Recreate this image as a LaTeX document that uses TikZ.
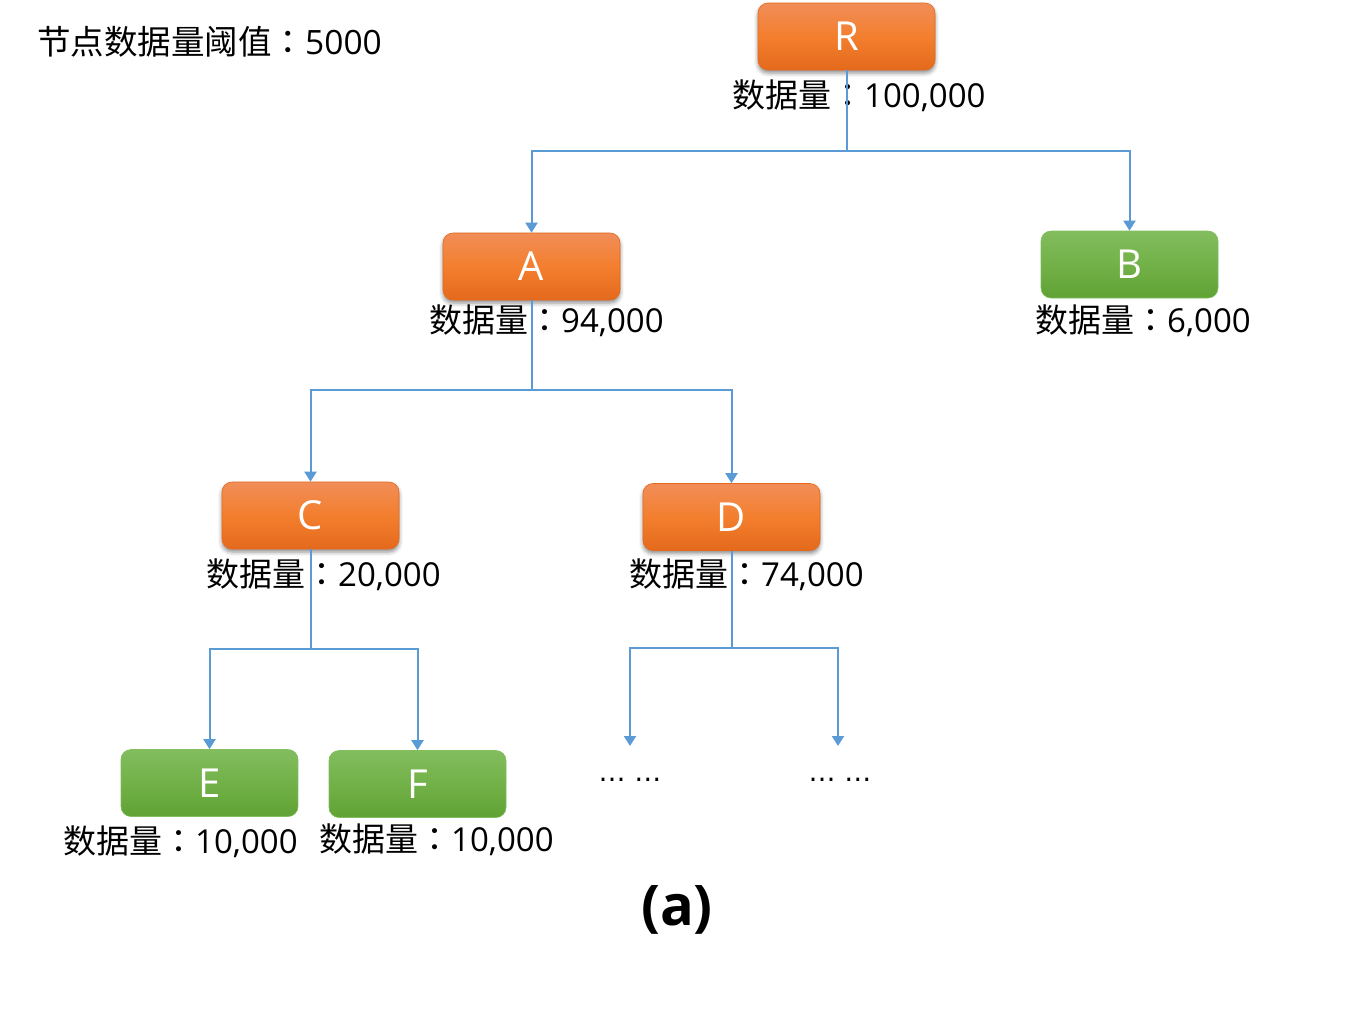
\documentclass[tikz,border=0pt]{standalone}
\usepackage{fontspec}
\setmainfont{Open Sans}
\newfontfamily\cjk{Noto Sans CJK SC}
\newfontfamily\cjktc{Noto Sans CJK TC}
\newfontfamily\dejavu{DejaVu Sans}
\usetikzlibrary{arrows.meta,shadows.blur}
\definecolor{linkblue}{RGB}{91,155,213}
\definecolor{orTop}{RGB}{241,141,88}
\definecolor{orMid}{RGB}{243,127,46}
\definecolor{orBot}{RGB}{228,105,28}
\definecolor{grTop}{RGB}{130,189,94}
\definecolor{grMid}{RGB}{114,177,72}
\definecolor{grBot}{RGB}{96,162,52}
\tikzset{
  box/.style={rounded corners=10pt, minimum width=177pt, minimum height=67pt,
    inner sep=0pt, text=white, font=\fontsize{40}{42}\selectfont},
  orangebox/.style={box, top color=orTop, bottom color=orBot, middle color=orMid,
    draw=orBot, line width=0.6pt,
    blur shadow={shadow xshift=0pt, shadow yshift=-3pt, shadow blur radius=4pt, shadow opacity=45}},
  greenbox/.style={box, top color=grTop, bottom color=grBot, middle color=grMid,
    draw=grTop, line width=0.6pt},
  lbl/.style={anchor=west, inner sep=0pt, font=\fontsize{33}{36}\selectfont},
  arr/.style={draw=linkblue, line width=2pt, -{Triangle[width=12pt,length=10pt]}},
  dotstxt/.style={inner sep=0pt, anchor=base, font=\dejavu\fontsize{27}{30}\selectfont},
}
\begin{document}
\begin{tikzpicture}[x=1pt,y=-1pt]
\useasboundingbox (0,0) rectangle (1361,1021);

\node[anchor=west, inner sep=0pt, font=\fontsize{33.5}{36}\selectfont] (thr) at (37,42) {{\cjk 节点数据量阈值}{\cjktc ：}5000};

% boxes
\node[orangebox] (R) at (846.5,36.5) {R};
\node[orangebox] (A) at (531.5,266.5) {A};
\node[greenbox]  (B) at (1129.5,264.5) {B};
\node[orangebox] (C) at (310.5,515.5) {C};
\node[orangebox] (D) at (731.5,517) {D};
\node[greenbox]  (E) at (209.5,783) {E};
\node[greenbox]  (F) at (417.5,784) {F};

% labels
\node[lbl] (Rl) at (732,96)  {{\cjk 数据量}{\cjktc ：}100,000};
\node[lbl] (Al) at (429,321) {{\cjk 数据量}{\cjktc ：}94,000};
\node[lbl] (Bl) at (1035,321) {{\cjk 数据量}{\cjktc ：}6,000};
\node[lbl] (Cl) at (206,575) {{\cjk 数据量}{\cjktc ：}20,000};
\node[lbl] (Dl) at (629,575) {{\cjk 数据量}{\cjktc ：}74,000};
\node[lbl] (El) at (63,842)  {{\cjk 数据量}{\cjktc ：}10,000};
\node[lbl] (Fl) at (319,840) {{\cjk 数据量}{\cjktc ：}10,000};

% dots
\node[dotstxt] (d1) at (630,781) {… …};
\node[dotstxt] (d2) at (840,781) {… …};
\coordinate (d1t) at (630,746);
\coordinate (d2t) at (838,746);

% connectors
\draw[arr] (R.south) -- (846.5,151) -| (A.north);
\draw[arr] (R.south) -- (846.5,151) -| (B.north);
\draw[arr] (A.south) -- (531.5,390) -| (C.north);
\draw[arr] (A.south) -- (531.5,390) -| (D.north);
\draw[arr] (C.south) -- (310.5,649) -| (E.north);
\draw[arr] (C.south) -- (310.5,649) -| (F.north);
\draw[arr] (D.south) -- (731.5,648) -| (d1t);
\draw[arr] (D.south) -- (731.5,648) -| (d2t);

\node[font=\bfseries\fontsize{56}{60}\selectfont, inner sep=0pt] (cap) at (677,910) {(a)};
\end{tikzpicture}
\end{document}
